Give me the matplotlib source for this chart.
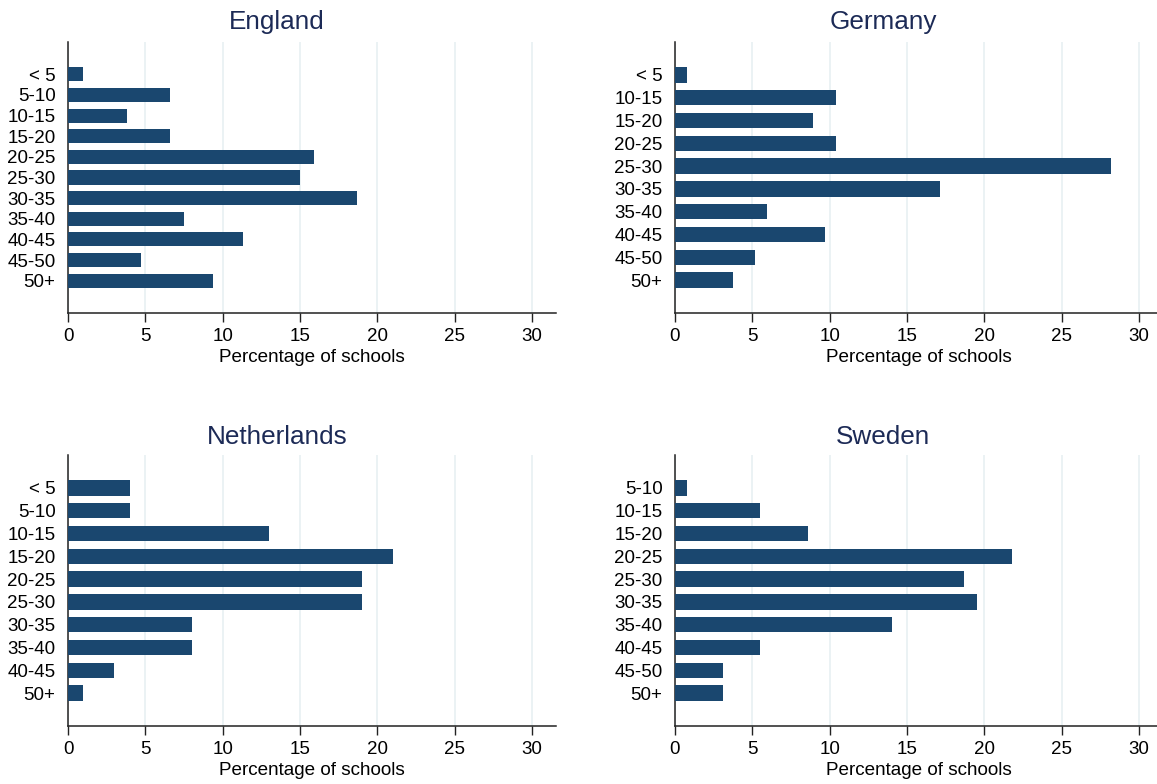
import matplotlib
matplotlib.use('Agg')
import matplotlib.pyplot as plt

plt.rcParams['font.family'] = ['Liberation Sans', 'DejaVu Sans']

# Data (percentage of schools by class size group)
england_labels = ['< 5', '5-10', '10-15', '15-20', '20-25', '25-30', '30-35', '35-40', '40-45', '45-50', '50+']
england_values = [1.0, 6.6, 3.8, 6.6, 15.9, 15.0, 18.7, 7.5, 11.3, 4.7, 9.4]

germany_labels = ['< 5', '10-15', '15-20', '20-25', '25-30', '30-35', '35-40', '40-45', '45-50', '50+']
germany_values = [0.8, 10.4, 8.9, 10.4, 28.2, 17.1, 5.95, 9.7, 5.2, 3.75]

netherlands_labels = ['< 5', '5-10', '10-15', '15-20', '20-25', '25-30', '30-35', '35-40', '40-45', '50+']
netherlands_values = [4.0, 4.0, 13.0, 21.0, 19.0, 19.0, 8.0, 8.0, 3.0, 1.0]

sweden_labels = ['5-10', '10-15', '15-20', '20-25', '25-30', '30-35', '35-40', '40-45', '45-50', '50+']
sweden_values = [0.8, 5.5, 8.6, 21.8, 18.7, 19.5, 14.0, 5.5, 3.1, 3.1]

panels = [
    ('England', england_labels, england_values),
    ('Germany', germany_labels, germany_values),
    ('Netherlands', netherlands_labels, netherlands_values),
    ('Sweden', sweden_labels, sweden_values),
]

W, H = 1157, 784
fig = plt.figure(figsize=(W / 100, H / 100), dpi=100)

bar_color = '#1a476f'
grid_color = '#e8f0f2'
title_color = '#1c2a56'
xmax = 31.55
px_per_unit = 15.47

# axes left edge (px), top (px), bottom (px), title centre x (px), title y (px)
layout = [
    (68, 42, 313, 277, 22),
    (675, 42, 313, 883, 22),
    (68, 455, 726, 277, 437),
    (675, 455, 726, 883, 437),
]

for (title, labels, values), (left, top, bottom, tx, ty) in zip(panels, layout):
    width_px = xmax * px_per_unit
    ax = fig.add_axes([left / W, 1 - bottom / H, width_px / W, (bottom - top) / H])
    n = len(labels)
    pos = list(range(n))
    # keep the outer gap roughly constant in pixels
    step = (bottom - top) / (n - 1 + 2 * 1.5)
    pad = 32.5 / step
    ax.barh(pos, values, height=0.68, color=bar_color, zorder=3)
    ax.set_ylim(n - 1 + pad, -pad)
    ax.set_xlim(0, xmax)
    ax.set_xticks([0, 5, 10, 15, 20, 25, 30])
    ax.set_yticks(pos)
    ax.set_yticklabels(labels)
    ax.grid(axis='x', color=grid_color, linewidth=1.2, zorder=0)
    ax.set_axisbelow(True)
    for s in ['top', 'right']:
        ax.spines[s].set_visible(False)
    for s in ['left', 'bottom']:
        ax.spines[s].set_color('#222222')
        ax.spines[s].set_linewidth(1.1)
    ax.tick_params(axis='y', length=0, pad=9, labelsize=13.5)
    ax.tick_params(axis='x', length=6.5, width=1.0, color='#222222', pad=4, labelsize=13.5)
    ax.set_xlabel('Percentage of schools', fontsize=13.6, labelpad=3)
    fig.text(tx / W, 1 - ty / H, title, ha='center', va='center', fontsize=18.8, color=title_color)

fig.savefig('out.png', dpi=100)
